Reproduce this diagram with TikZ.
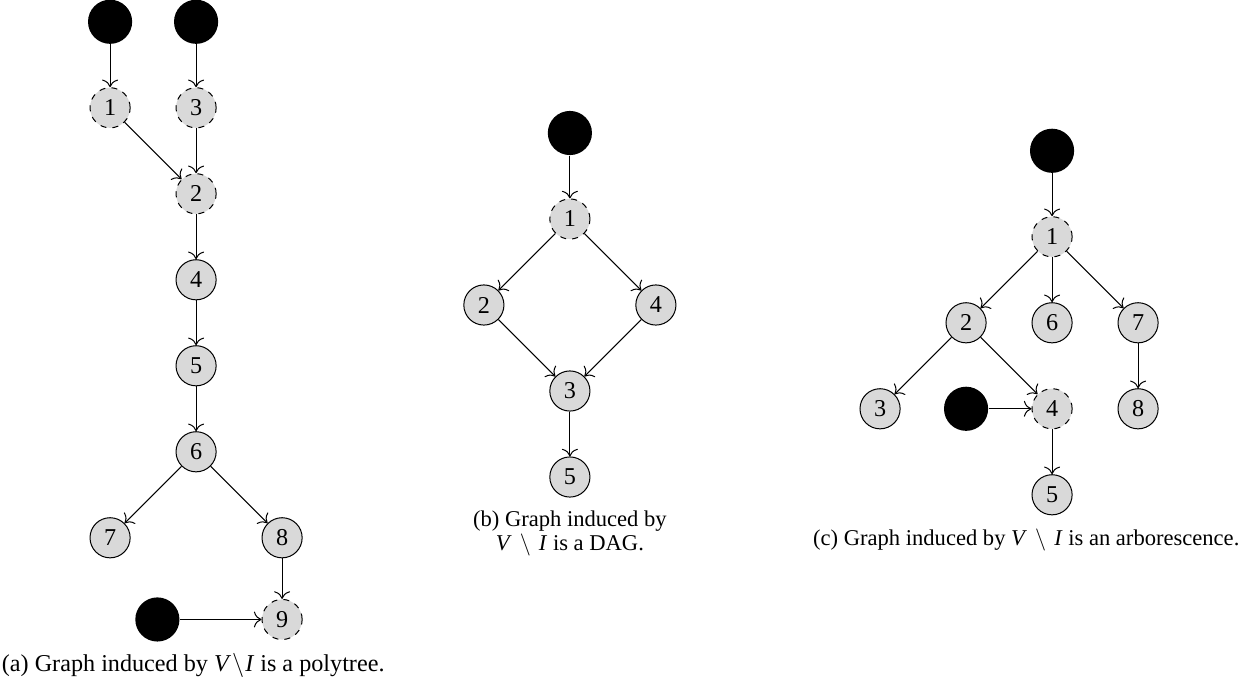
\documentclass[tikz,border=0pt]{standalone}
\usepackage{fontspec}
\setmainfont{Liberation Serif}
\usetikzlibrary{arrows.meta}
\begin{document}
\begin{tikzpicture}[font=\large,line width=0.5pt,>={To[scale=1.4]},
		vtx/.style={circle,draw,fill=gray!30,minimum size=0.7cm,inner sep=0pt},
		ivtx/.style={vtx,dashed},
		src/.style={circle,fill=black,minimum size=0.77cm,inner sep=0pt},
		captxt/.style={font=\fontsize{11.2}{12}\selectfont}]
			\useasboundingbox (0,0) rectangle (21.75,-12.05);
			
			% (a) polytree
			\begin{scope}[shift={(1.92cm,-0.38cm)},x=1.5cm,y=1.5cm]
			\node[src] (as1) at (0,0) {};
			\node[src] (as3) at (1,0) {};
			\node[ivtx] (a1) at (0,-1) {1};
			\node[ivtx] (a3) at (1,-1) {3};
			\node[ivtx] (a2) at (1,-2) {2};
			\node[vtx] (a4) at (1,-3) {4};
			\node[vtx] (a5) at (1,-4) {5};
			\node[vtx] (a6) at (1,-5) {6};
			\node[vtx] (a7) at (0,-6) {7};
			\node[vtx] (a8) at (2,-6) {8};
			\node[ivtx] (a9) at (2,-6.95) {9};
			\node[src] (as9) at (0.55,-6.95) {};
			\draw [->] (as1) -- (a1);
			\draw [->] (as3) -- (a3);
			\draw [->] (a1) -- (a2);
			\draw [->] (a3) -- (a2);
			\draw [->] (a2) -- (a4);
			\draw [->] (a4) -- (a5);
			\draw [->] (a5) -- (a6);
			\draw [->] (a6) -- (a7);
			\draw [->] (a6) -- (a8);
			\draw [->] (a8) -- (a9);
			\draw [->] (as9) -- (a9);
			\end{scope}
			\node (capa) at (3.37,-11.6) {(a) Graph induced by \textit{V}\kern.5pt$\backslash$\kern.5pt\textit{I} is a polytree.};
			
			% (b) DAG
			\begin{scope}[shift={(9.94cm,-2.32cm)},x=1.5cm,y=1.5cm]
			\node[src] (bs1) at (0,0) {};
			\node[ivtx] (b1) at (0,-1) {1};
			\node[vtx] (b2) at (-1,-2) {2};
			\node[vtx] (b4) at (1,-2) {4};
			\node[vtx] (b3) at (0,-3) {3};
			\node[vtx] (b5) at (0,-4) {5};
			\draw [->] (bs1) -- (b1);
			\draw [->] (b1) -- (b2);
			\draw [->] (b1) -- (b4);
			\draw [->] (b2) -- (b3);
			\draw [->] (b4) -- (b3);
			\draw [->] (b3) -- (b5);
			\end{scope}
			\node[captxt,align=center] (capb) at (9.94,-9.31) {(b) Graph induced by\\ \textit{V}\kern4pt$\setminus$\kern4pt\textit{I} is a DAG.};
			
			% (c) arborescence
			\begin{scope}[shift={(18.35cm,-2.63cm)},x=1.5cm,y=1.5cm]
			\node[src] (cs1) at (0,0) {};
			\node[ivtx] (c1) at (0,-1) {1};
			\node[vtx] (c2) at (-1,-2) {2};
			\node[vtx] (c6) at (0,-2) {6};
			\node[vtx] (c7) at (1,-2) {7};
			\node[vtx] (c3) at (-2,-3) {3};
			\node[src] (cs4) at (-1,-3) {};
			\node[ivtx] (c4) at (0,-3) {4};
			\node[vtx] (c8) at (1,-3) {8};
			\node[vtx] (c5) at (0,-4) {5};
			\draw [->] (cs1) -- (c1);
			\draw [->] (c1) -- (c2);
			\draw [->] (c1) -- (c6);
			\draw [->] (c1) -- (c7);
			\draw [->] (c2) -- (c3);
			\draw [->] (c2) -- (c4);
			\draw [->] (cs4) -- (c4);
			\draw [->] (c7) -- (c8);
			\draw [->] (c4) -- (c5);
			\end{scope}
			\node[captxt] (capc) at (17.9,-9.42) {(c) Graph induced by \textit{V}\kern4pt$\setminus$\kern4pt\textit{I} is an arborescence.};
		\end{tikzpicture}
\end{document}
